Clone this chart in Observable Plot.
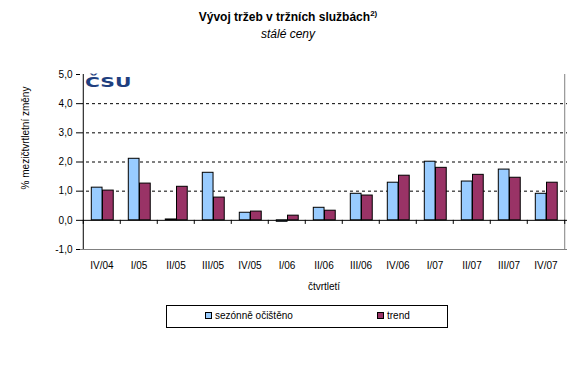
<!DOCTYPE html>
<html><head><meta charset="utf-8">
<script src="https://cdn.jsdelivr.net/npm/d3@7"></script>
<script src="https://cdn.jsdelivr.net/npm/@observablehq/plot@0.6"></script>
<style>
body{margin:0;background:#fff;font-family:Arial,"Liberation Sans",sans-serif;color:#000;}
#wrap{position:relative;width:576px;height:368px;overflow:hidden;}
#title{position:absolute;left:0;width:576px;top:10px;text-align:center;font-weight:bold;font-size:12px;line-height:14px;}
#title sup{font-size:8px;vertical-align:0;position:relative;top:-5px;}
#subtitle{position:absolute;left:0;width:576px;top:27px;text-align:center;font-style:italic;font-size:12px;line-height:14px;}
#chart{position:absolute;left:0;top:50px;}
#ylabel{position:absolute;left:25px;top:138px;transform:translate(-50%,-50%) rotate(-90deg);white-space:nowrap;font-size:10px;}
#logo{position:absolute;left:85px;top:75px;font-weight:bold;font-size:14px;line-height:14px;color:#1F3F7F;font-family:"DejaVu Sans",sans-serif;transform-origin:0 0;transform:scaleX(1.45);}
#legend{position:absolute;left:166px;top:305px;width:280px;height:21px;border:1px solid #000;font-size:10px;}
.sw{position:absolute;top:6px;width:5px;height:5px;border:1px solid #000;}
.lt{position:absolute;top:4px;line-height:12px;white-space:nowrap;}
</style></head><body>
<div id="wrap">
  <div id="title">Vývoj tržeb v tržních službách<sup>2)</sup></div>
  <div id="subtitle">stálé ceny</div>
  <div id="chart"></div>
  <div id="ylabel">% mezičtvrtletní změny</div>
  <div id="logo">ČSU</div>
  <div id="legend"></div>
</div>
<script>
const categories = ["IV/04","I/05","II/05","III/05","IV/05","I/06","II/06","III/06","IV/06","I/07","II/07","III/07","IV/07"];
const sezonne = [1.12, 2.11, 0.03, 1.63, 0.26, -0.05, 0.43, 0.91, 1.29, 2.01, 1.33, 1.74, 0.91];
const trend = [1.02, 1.26, 1.15, 0.78, 0.30, 0.16, 0.33, 0.85, 1.53, 1.80, 1.56, 1.46, 1.29];
const seriesNames = ["sezónně očištěno", "trend"];
const seriesColors = ["#99CCFF", "#993366"];
const yTicks = [-1, 0, 1, 2, 3, 4, 5];
const xTitle = "čtvrtletí";

const dataS = categories.map((c, i) => ({cat: c, value: sezonne[i]}));
const dataT = categories.map((c, i) => ({cat: c, value: trend[i]}));

const W = 576, H = 252, ML = 80, MR = 9, MT = 24, MB = 53;
const step = (W - ML - MR) / categories.length;

const chart = Plot.plot({
  width: W, height: H,
  marginLeft: ML, marginRight: MR, marginTop: MT, marginBottom: MB,
  style: {fontFamily: 'Arial, "Liberation Sans", sans-serif', fontSize: "10px", color: "#000", background: "transparent", overflow: "visible"},
  x: {domain: categories, padding: 0, label: null},
  y: {domain: [-1, 5], label: null},
  marks: [
    Plot.ruleY([1, 2, 3, 4], {stroke: "#000", strokeDasharray: "3,3"}),
    Plot.ruleY([-1], {stroke: "#808080"}),
    Plot.ruleX([categories[categories.length - 1]], {dx: step / 2, stroke: "#808080"}),
    Plot.barY(dataS, {x: "cat", y: "value", fill: seriesColors[0], stroke: "#000", strokeWidth: 1,
      insetLeft: 8.3, insetRight: step - 19.5}),
    Plot.barY(dataT, {x: "cat", y: "value", fill: seriesColors[1], stroke: "#000", strokeWidth: 1,
      insetLeft: 19.5, insetRight: step - 30.7}),
    Plot.ruleY([0], {stroke: "#000"}),
    Plot.ruleX([categories[0]], {dx: -step / 2, stroke: "#000"}),
    Plot.ruleX(categories, {x: d => d, y1: 0, y2: -0.14, dx: -step / 2, stroke: "#000"}),
    Plot.ruleX([categories[categories.length - 1]], {y1: 0, y2: -0.14, dx: step / 2, stroke: "#000"}),
    Plot.axisY({ticks: yTicks, tickFormat: d => d.toFixed(1).replace(".", ","), tickSize: 4, tickPadding: 4, label: null, stroke: "#000"}),
    Plot.axisX({tickSize: 0, tickPadding: 12, label: null}),
    Plot.text([xTitle], {text: d => d, frameAnchor: "bottom", dy: 40})
  ]
});
document.getElementById("chart").appendChild(chart);

const legend = document.getElementById("legend");
const pos = [[38, 48], [210, 220]];
seriesNames.forEach((n, i) => {
  const sw = document.createElement("div");
  sw.className = "sw"; sw.style.left = pos[i][0] + "px"; sw.style.background = seriesColors[i];
  const t = document.createElement("div");
  t.className = "lt"; t.style.left = pos[i][1] + "px"; t.textContent = n;
  legend.appendChild(sw); legend.appendChild(t);
});
</script>
</body></html>
